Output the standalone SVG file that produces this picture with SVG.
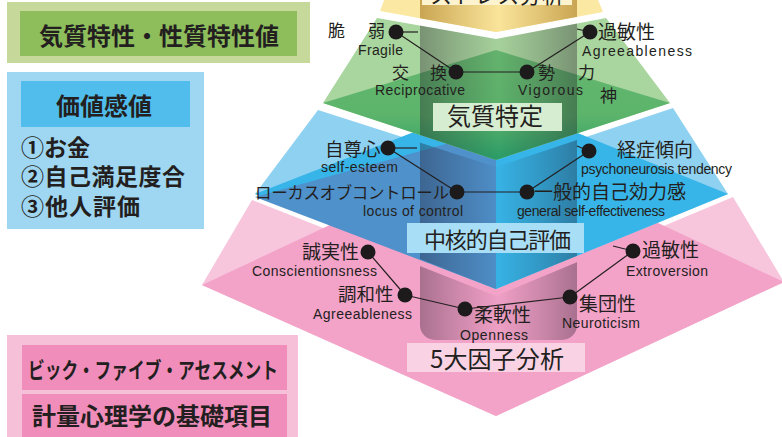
<svg xmlns="http://www.w3.org/2000/svg" width="782" height="437" viewBox="0 0 782 437">
<style>
.jp{font-family:"Noto Sans CJK JP","Noto Sans CJK SC",sans-serif;fill:#231f20}
.jb{font-family:"Noto Sans CJK JP","Noto Sans CJK SC",sans-serif;fill:#231f20;font-weight:700}
.en{font-family:"Liberation Sans",Arial,sans-serif;fill:#231f20;font-size:14px}
.lbl{font-size:19px}
.ln{stroke:#231f20;stroke-width:1.2;fill:none}
.dot{fill:#1c1a1b}
</style>
<defs>
<linearGradient id="col" x1="0" y1="0" x2="1" y2="0">
<stop offset="0" stop-color="#1a1020" stop-opacity="0.34"/>
<stop offset="0.2" stop-color="#1a1020" stop-opacity="0.2"/>
<stop offset="0.5" stop-color="#1a1020" stop-opacity="0.02"/>
<stop offset="0.8" stop-color="#1a1020" stop-opacity="0.2"/>
<stop offset="1" stop-color="#1a1020" stop-opacity="0.34"/>
</linearGradient>
<linearGradient id="colY" x1="0" y1="0" x2="1" y2="0">
<stop offset="0" stop-color="#c9a552"/>
<stop offset="0.25" stop-color="#e3c677"/>
<stop offset="0.5" stop-color="#f9e49a"/>
<stop offset="0.75" stop-color="#e3c677"/>
<stop offset="1" stop-color="#c9a552"/>
</linearGradient>
<linearGradient id="gfront" x1="0" y1="0" x2="0" y2="1">
<stop offset="0" stop-color="#66b66f"/>
<stop offset="0.6" stop-color="#5cb46b"/>
<stop offset="1" stop-color="#2a9f69"/>
</linearGradient>
<clipPath id="layers">
<polygon points="377,18 323,103 496,160 670,103 606,18 496,39"/>
<polygon points="318,110 255,194 496,289 728,194 673,108 496,167"/>
<polygon points="252,200 202,285 496,416 784,282 733,197 496,296"/>
</clipPath>
<clipPath id="ylayer">
<polygon points="386,-5 380,11 496,32 603,12 596,-5"/>
</clipPath>
</defs>
<rect width="782" height="437" fill="#ffffff"/>

<g id="layer-pink">
<polygon points="252,200 202,285 496,416 784,282 733,197 496,296" fill="#f7c5dc"/>
<polygon points="202,285 496,147 784,282 496,416" fill="#f3a2c8"/>
</g>
<g id="layer-blue">
<polygon points="318,110 255,194 496,289 728,194 673,108 496,167" fill="#8fd1f1"/>
<polygon points="255,194 496,100 728,194 496,289" fill="#37b5e8"/>
<polygon points="255,197 496,130 496,289" fill="#4f91cb"/>
</g>
<g id="layer-green">
<polygon points="377,18 323,103 496,160 670,103 606,18 496,39" fill="#a9d59e"/>
<polygon points="323,103 496,50 670,103 496,160" fill="url(#gfront)"/>
</g>
<g id="layer-yellow">
<polygon points="386,-5 380,11 496,32 603,12 596,-5" fill="#fbe8a3"/>
</g>
<g id="column">
<rect x="420" y="-20" width="157" height="360" rx="15" fill="url(#col)" clip-path="url(#layers)"/>
<rect x="420" y="-20" width="157" height="60" fill="url(#colY)" clip-path="url(#ylayer)"/>
</g>

<g id="label-stress">
<rect x="422" y="-25" width="150" height="30" fill="#fdf3cf"/>
<text class="jp" x="430" y="3" font-size="22" textLength="134">ストレス分析</text>
</g>
<g id="label-kishitsu">
<rect x="433" y="103" width="129" height="28" fill="#d6edd2"/>
<text class="jp" x="447" y="125" font-size="24">気質特定</text>
</g>
<g id="label-core">
<rect x="407" y="223" width="177" height="30" fill="#a9def7"/>
<text class="jp" x="424" y="248" font-size="22" textLength="147">中核的自己評価</text>
</g>
<g id="label-big5">
<rect x="407" y="343" width="178" height="29" fill="#f9d3e4"/>
<text class="jp" x="430" y="368" font-size="24" textLength="134">5大因子分析</text>
</g>

<g id="connectors">
<line class="ln" x1="396" y1="32" x2="418" y2="32"/>
<line class="ln" x1="396" y1="32" x2="456" y2="72"/>
<line class="ln" x1="456" y1="72" x2="527" y2="72"/>
<line class="ln" x1="527" y1="72" x2="590" y2="32"/>
<line class="ln" x1="577" y1="29" x2="590" y2="32"/>
<line class="ln" x1="388" y1="148" x2="417" y2="148"/>
<line class="ln" x1="388" y1="148" x2="457" y2="192"/>
<line class="ln" x1="457" y1="192" x2="527" y2="192"/>
<line class="ln" x1="527" y1="192" x2="589" y2="151"/>
<line class="ln" x1="577" y1="146" x2="589" y2="151"/>
<line class="ln" x1="368" y1="252" x2="405" y2="295"/>
<line class="ln" x1="405" y1="295" x2="465" y2="309"/>
<line class="ln" x1="465" y1="309" x2="570" y2="297"/>
<line class="ln" x1="570" y1="297" x2="633" y2="251"/>
<line class="ln" x1="613" y1="246" x2="633" y2="251"/>
</g>

<g id="node-zeijaku">
<circle class="dot" cx="396" cy="32" r="7.5"/>
<text class="jp" font-size="17" x="328 368" y="37">脆弱</text>
<text class="en" x="358" y="55" font-size="13" textLength="45">Fragile</text>
</g>
<g id="node-koukan">
<circle class="dot" cx="456" cy="72" r="7.5"/>
<text class="jp" font-size="17" x="392 430" y="79">交換</text>
<text class="en" x="375" y="95" textLength="90">Reciprocative</text>
</g>
<g id="node-seiryoku">
<circle class="dot" cx="527" cy="72" r="7.5"/>
<text class="jp" font-size="17" x="538 578" y="79">勢力</text>
<text class="jp" font-size="17" x="600" y="102">神</text>
<text class="en" x="518" y="95" textLength="65">Vigorous</text>
</g>
<g id="node-kabinsei-g">
<circle class="dot" cx="590" cy="32" r="7.5"/>
<text class="jp lbl" x="598" y="39">過敏性</text>
<text class="en" x="582" y="56" textLength="110">Agreeableness</text>
</g>
<g id="node-jisonshin">
<circle class="dot" cx="388" cy="148" r="7.5"/>
<text class="jp" font-size="18.5" x="325" y="156">自尊心</text>
<text class="en" x="321" y="172" textLength="77">self-esteem</text>
</g>
<g id="node-locus">
<circle class="dot" cx="457" cy="192" r="7.5"/>
<text class="jp" font-size="16.5" x="255" y="199" textLength="194">ローカスオブコントロール</text>
<text class="en" x="363" y="216" textLength="100">locus of control</text>
</g>
<g id="node-ippan">
<circle class="dot" cx="527" cy="192" r="7.5"/>
<text class="jp lbl" x="534" y="199" textLength="152">一般的自己効力感</text>
<text class="en" x="517" y="216" textLength="148">general self-effectiveness</text>
</g>
<g id="node-keishou">
<circle class="dot" cx="589" cy="151" r="7.5"/>
<text class="jp lbl" x="617" y="157">経症傾向</text>
<text class="en" x="581" y="174" textLength="151">psychoneurosis tendency</text>
</g>
<g id="node-seijitsu">
<circle class="dot" cx="368" cy="252" r="7.5"/>
<text class="jp lbl" x="302" y="259">誠実性</text>
<text class="en" x="252" y="276" textLength="125">Conscientionsness</text>
</g>
<g id="node-chouwa">
<circle class="dot" cx="405" cy="295" r="7.5"/>
<text class="jp" font-size="18.5" x="338" y="301">調和性</text>
<text class="en" x="313" y="319" textLength="99">Agreeableness</text>
</g>
<g id="node-juunan">
<circle class="dot" cx="465" cy="309" r="7.5"/>
<text class="jp lbl" x="474" y="322">柔軟性</text>
<text class="en" x="460" y="340" textLength="68">Openness</text>
</g>
<g id="node-shuudan">
<circle class="dot" cx="570" cy="297" r="7.5"/>
<text class="jp lbl" x="579" y="311">集団性</text>
<text class="en" x="562" y="328" textLength="78">Neuroticism</text>
</g>
<g id="node-kabinsei-p">
<circle class="dot" cx="633" cy="251" r="7.5"/>
<text class="jp lbl" x="642" y="257">過敏性</text>
<text class="en" x="626" y="276" textLength="82">Extroversion</text>
</g>

<g id="panel-green">
<rect x="7" y="2" width="303" height="61" fill="#c6d99b"/>
<rect x="20" y="11" width="277" height="45" fill="#8ebd5c"/>
<text class="jb" x="39" y="45" font-size="24" textLength="240">気質特性・性質特性値</text>
</g>
<g id="panel-blue">
<rect x="7" y="72" width="197" height="157" fill="#9fd6f2"/>
<rect x="21" y="81" width="169" height="46" fill="#50bdec"/>
<text class="jb" x="56" y="115" font-size="24">価値感値</text>
<text class="jb" x="21" y="156" font-size="23">①お金</text>
<text class="jb" x="21" y="185" font-size="23" textLength="164">②自己満足度合</text>
<text class="jb" x="21" y="215" font-size="23" textLength="119">③他人評価</text>
</g>
<g id="panel-pink">
<rect x="7" y="335" width="291" height="110" fill="#f6c1d8"/>
<rect x="22" y="345" width="265" height="45" fill="#f08dba"/>
<rect x="22" y="394" width="265" height="50" fill="#f08dba"/>
<text class="jb" x="28" y="378" font-size="22" textLength="250" lengthAdjust="spacingAndGlyphs">ビック・ファイブ・アセスメント</text>
<text class="jb" x="32" y="425" font-size="24" textLength="240">計量心理学の基礎項目</text>
</g>
</svg>
